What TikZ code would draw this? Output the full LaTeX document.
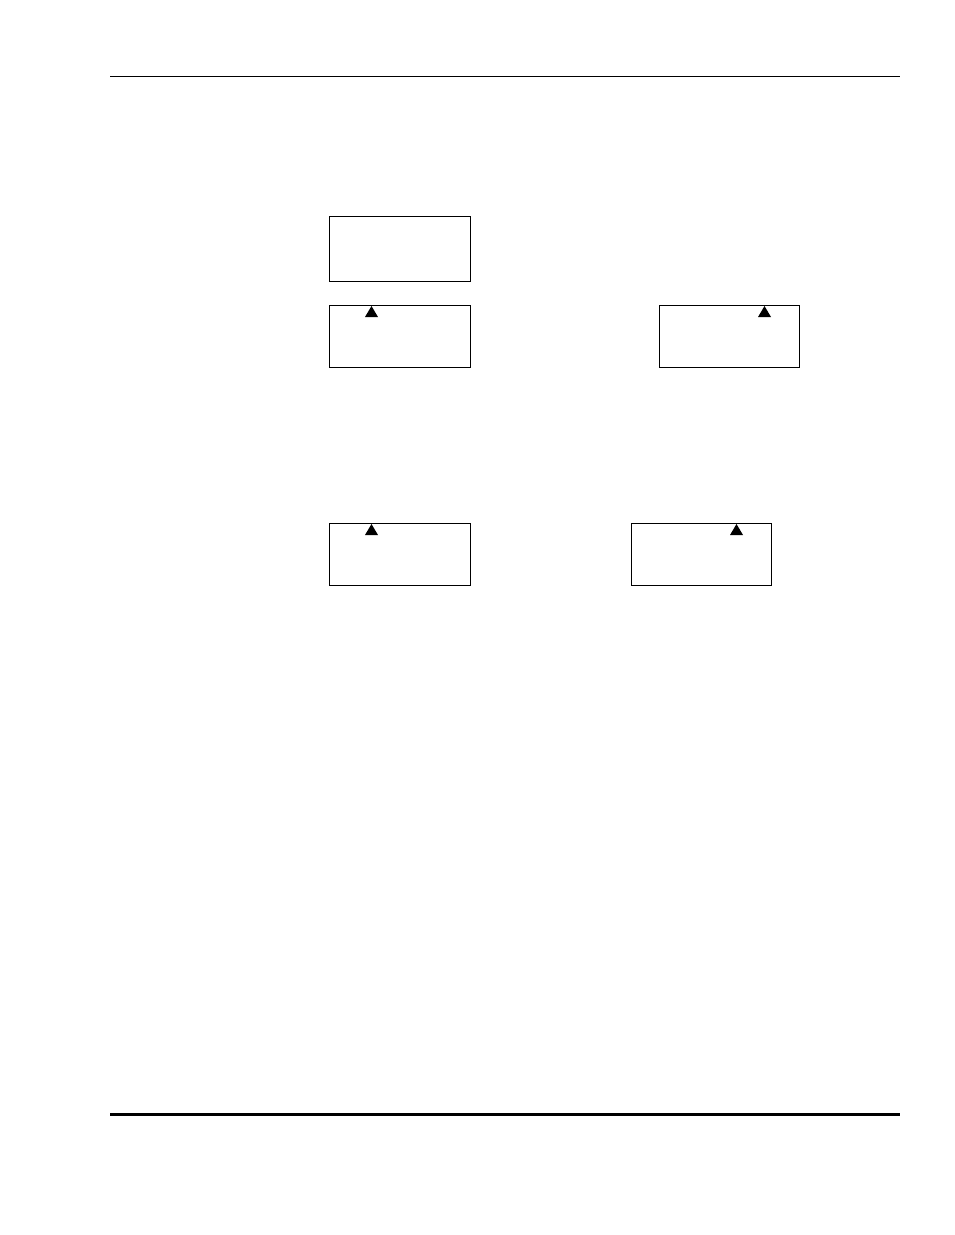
\documentclass[tikz,border=0pt]{standalone}
\begin{document}
\begin{tikzpicture}[x=1pt,y=-1pt,
  frame/.style={draw=black,line width=1.1pt,fill=white},
  tri/.style={fill=black}]
\useasboundingbox (0,0) rectangle (954,1235);
\fill[white] (0,0) rectangle (954,1235);
% rules
\coordinate (tl) at (110,76.5);
\coordinate (tr) at (900,76.5);
\draw[line width=1pt] (tl) -- (tr);
\coordinate (bl) at (110,1114.5);
\coordinate (br) at (900,1114.5);
\draw[line width=2.2pt] (bl) -- (br);
% boxes
\draw[frame] (329.5,216.5) rectangle (470.5,281.5);
\draw[frame] (329.5,305.5) rectangle (470.5,367.5);
\draw[frame] (659.5,305.5) rectangle (799.5,367.5);
\draw[frame] (329.5,523.5) rectangle (470.5,585.5);
\draw[frame] (631.5,523.5) rectangle (771.5,585.5);
% triangles
\fill[tri] (371.5,306) -- (378,317) -- (365,317) -- cycle;
\fill[tri] (764.5,306) -- (771,317) -- (758,317) -- cycle;
\fill[tri] (371.5,524) -- (378,535) -- (365,535) -- cycle;
\fill[tri] (736.5,524) -- (743,535) -- (730,535) -- cycle;
\end{tikzpicture}
\end{document}
